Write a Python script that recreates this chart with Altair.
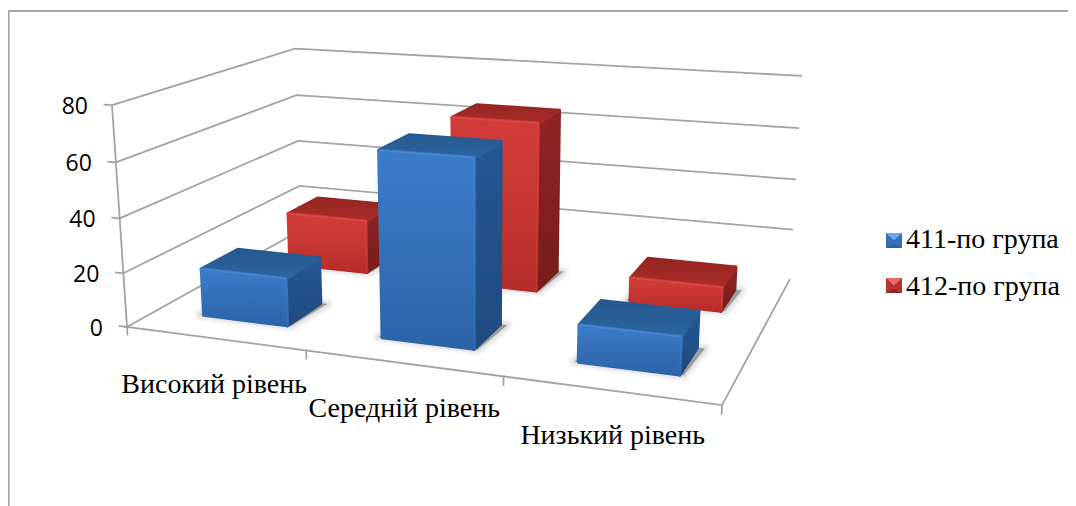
import altair as alt

categories = ["Високий рівень", "Середній рівень", "Низький рівень"]
series_names = ["411-по група", "412-по група"]
group_411 = [17.5, 66.5, 13]
group_412 = [21, 65, 9]
y_ticks = [0, 20, 40, 60, 80]

W, H = 1060, 498
OX, OY = 8, 8  # page margin


def project(u, v, z=0.0):
    """Perspective projection of (category, depth, value) to the drawing plane."""
    s = 0.00051 * z
    w = 1 - 0.1384 * u + 0.236 * v - s
    x = 495.1 * u + 245 * v + 127 - 479 * s
    y = 22 * u - 42.7 * v + 327 - 5541 * s
    return [x / w - OX, y / w - OY]


def poly(pts):
    return {"type": "Feature", "properties": {},
            "geometry": {"type": "Polygon", "coordinates": [pts + [pts[0]]]}}


def path(pts):
    return {"type": "Feature", "properties": {},
            "geometry": {"type": "LineString", "coordinates": pts}}


def fc(features):
    return alt.Data(values={"type": "FeatureCollection", "features": features},
                    format=alt.DataFormat(property="features"))


def vgrad(*colors):
    n = len(colors) - 1
    return alt.LinearGradient(
        gradient="linear", x1=0, x2=0, y1=0, y2=1,
        stops=[alt.GradientStop(color=c, offset=i / n) for i, c in enumerate(colors)])


def shape(features, **kw):
    return alt.Chart(fc(features)).mark_geoshape(**kw).project(type="identity", scale=1, translate=[0, 0])


layers = []

# walls, floor, axes
grid = [path([project(0, 0, t), project(0, 1, t), project(1, 1, t)]) for t in y_ticks[1:]]
floor = [path([project(0, 1, 0), project(0, 0, 0), project(1, 0, 0), project(1, 1, 0)])]
vaxis = [path([project(0, 0, 0), project(0, 0, y_ticks[-1])])]
yticks = [path([project(-0.016, 0, t), project(0, 0, t)]) for t in y_ticks]
xticks = [path([project(i / 3, 0, 0), project(i / 3, 0, -3.2)]) for i in range(4)]
layers.append(shape(grid + floor + vaxis + yticks + xticks, filled=False,
                    stroke="#a3a3a3", strokeWidth=1.8))

# outer frame
layers.append(shape([path([[0.75, H], [0.75, 3], [W, 3]])], filled=False,
                    stroke="#a6a6a6", strokeWidth=1.8))

styles = {
    0: dict(front=vgrad("#3a7cca", "#3470b8", "#2b63a9"),
            top=vgrad("#25588f", "#2c659f"),
            side=vgrad("#245793", "#1f4a80"),
            hi="#5e9be0"),
    1: dict(front=vgrad("#d23c38", "#c83633", "#b42c2a"),
            top=vgrad("#952522", "#ab2d2a"),
            side=vgrad("#8e2422", "#781c1a"),
            hi="#e85f5a"),
}

HALF_U, HALF_V = 0.08, 0.098
U_SHIFT = 0.003
depth_center = {0: 0.25, 1: 0.75}

for sidx, values in [(1, group_412), (0, group_411)]:
    st = styles[sidx]
    vc = depth_center[sidx]
    v0, v1 = vc - HALF_V, vc + HALF_V
    for c, val in enumerate(values):
        uc = (c + 0.5) / 3 + U_SHIFT
        u0, u1 = uc - HALF_U, uc + HALF_U
        base = [project(u0 - 0.006, v0, 0), project(u1 + 0.006, v0, 0),
                project(u1 + 0.012, v1, 0), project(u0, v1, 0)]
        for sw, op in [(13, 0.05), (8, 0.07), (3, 0.12)]:
            layers.append(shape([poly(base)], fill="#555555", fillOpacity=0.2, stroke="#555555",
                                strokeWidth=sw, strokeOpacity=op, strokeJoin="round"))
        side = [project(u1, v0, val), project(u1, v1, val), project(u1, v1, 0), project(u1, v0, 0)]
        top = [project(u0, v0, val), project(u1, v0, val), project(u1, v1, val), project(u0, v1, val)]
        front = [project(u0, v0, val), project(u1, v0, val), project(u1, v0, 0), project(u0, v0, 0)]
        layers.append(shape([poly(side)], fill=st["side"], stroke=st["side"],
                            strokeWidth=3.5, strokeJoin="round"))
        layers.append(shape([poly(top)], fill=st["top"], stroke=st["top"],
                            strokeWidth=3.5, strokeJoin="round"))
        layers.append(shape([poly(front)], fill=st["front"], stroke=st["front"],
                            strokeWidth=3.5, strokeJoin="round"))
        layers.append(shape([path([front[0], front[1]])], filled=False,
                            stroke=st["hi"], strokeWidth=1.5, strokeOpacity=0.4))
        layers.append(shape([path([front[1], front[2]])], filled=False,
                            stroke=st["hi"], strokeWidth=1, strokeOpacity=0.22))

# y tick labels
ytext = []
for t in y_ticks:
    px, py = project(0, 0, t)
    ytext.append({"label": str(t), "x": px - 24, "y": py + 2})
layers.append(alt.Chart(alt.Data(values=ytext)).mark_text(
    font="Open Sans", fontSize=23, align="right", baseline="middle", color="#000000"
).encode(x=alt.X("x:Q", scale=None), y=alt.Y("y:Q", scale=None), text="label:N"))

# category labels
cat_rows = []
cat_base = [(307, 393), (500, 417), (705, 444)]
for name, (px, py) in zip(categories, cat_base):
    cat_rows.append({"label": name, "x": px - OX, "y": py - OY})
layers.append(alt.Chart(alt.Data(values=cat_rows)).mark_text(
    font="Liberation Serif", fontSize=28, align="right", baseline="alphabetic", color="#000000"
).encode(x=alt.X("x:Q", scale=None), y=alt.Y("y:Q", scale=None), text="label:N"))

# legend
leg_rows = [{"label": n, "x": 906 - OX, "y": b - OY} for n, b in zip(series_names, [248, 295])]
layers.append(alt.Chart(alt.Data(values=leg_rows)).mark_text(
    font="Liberation Serif", fontSize=28, align="left", baseline="alphabetic", color="#000000"
).encode(x=alt.X("x:Q", scale=None), y=alt.Y("y:Q", scale=None), text="label:N"))

for ytop, dark, mid, light in [(233, "#2a5f9e", "#3470b8", "#6aa5e8"), (278, "#8f2523", "#b53431", "#ee6a66")]:
    x0, x1, y0, y1 = 886 - OX, 902 - OX, ytop - OY, ytop + 15 - OY
    layers.append(shape([poly([[x0, y0], [x1, y0], [x1, y1], [x0, y1]])], fill=mid))
    layers.append(shape([poly([[x0, y0], [x1, y0], [(x0 + x1) / 2, (y0 + y1) / 2]])], fill=light))
    layers.append(shape([poly([[x0, y1], [x1, y1], [(x0 + x1) / 2, y0 + 11]])], fill=dark))

chart = alt.layer(*layers).properties(
    width=W, height=H, padding=0, autosize=alt.AutoSizeParams(type="none")
).configure_view(stroke=None)

chart.save("out.html", embed_options={"renderer": "svg", "actions": False})
